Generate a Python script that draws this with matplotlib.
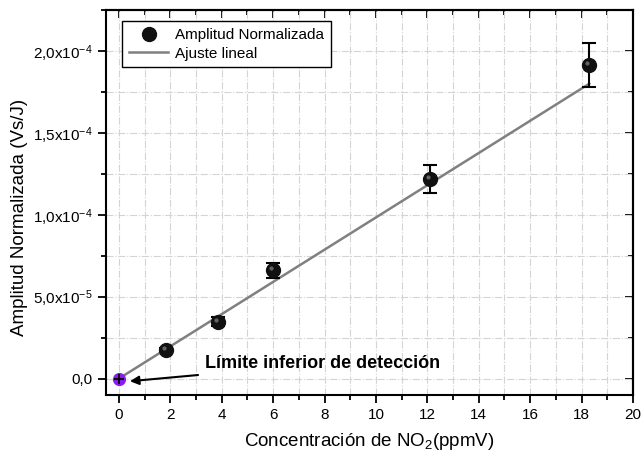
import numpy as np
import matplotlib
matplotlib.use('Agg')
import matplotlib.pyplot as plt
from matplotlib.ticker import MultipleLocator, FuncFormatter
from matplotlib.transforms import offset_copy

plt.rcParams['font.family'] = ['Liberation Sans', 'DejaVu Sans']
plt.rcParams['mathtext.fontset'] = 'custom'
plt.rcParams['mathtext.rm'] = 'Liberation Sans'
plt.rcParams['mathtext.it'] = 'Liberation Sans:italic'
plt.rcParams['mathtext.bf'] = 'Liberation Sans:bold'

# Data
conc = np.array([0.0, 1.83, 3.86, 6.0, 12.12, 18.3])            # ppmV
amp = np.array([0.0, 1.77e-5, 3.48e-5, 6.6e-5, 1.22e-4, 1.915e-4])  # Vs/J
amp_err = np.array([0.0, 0.1e-5, 0.25e-5, 0.46e-5, 0.85e-5, 1.35e-5])

# Linear fit end points
fit_x = [0.0, 18.3]
fit_y = [0.0, 1.80e-4]

detect_x = 0.0
detect_y = 0.0


def sci_fmt(v, pos):
    if abs(v) < 1e-12:
        return '0,0'
    e = int(np.floor(np.log10(abs(v)) + 1e-9))
    m = v / 10 ** e
    return ('%.1f' % m).replace('.', ',') + r'x10$^{\mathregular{%d}}$' % e


fig = plt.figure(figsize=(6.41, 4.54), dpi=100)
ax = fig.add_axes([0.1654, 0.130, 0.8221, 0.848])

ax.set_xlim(-0.5, 20)
ax.set_ylim(-1e-5, 2.25e-4)

# grid on major and minor ticks
ax.xaxis.set_major_locator(MultipleLocator(2))
ax.xaxis.set_minor_locator(MultipleLocator(1))
ax.yaxis.set_major_locator(MultipleLocator(5e-5))
ax.yaxis.set_minor_locator(MultipleLocator(2.5e-5))
ax.yaxis.set_major_formatter(FuncFormatter(sci_fmt))
ax.grid(True, which='both', color='#d4d4d4', linestyle='-.', linewidth=0.8)
ax.set_axisbelow(True)

# fit line
fit_line, = ax.plot(fit_x, fit_y, color='#808080', linewidth=1.8, label='Ajuste lineal', zorder=2)

# data with error bars
ax.errorbar(conc[1:], amp[1:], yerr=amp_err[1:], fmt='none', ecolor='black',
            elinewidth=1.5, capsize=5, capthick=1.5, zorder=3)
pts, = ax.plot(conc[1:], amp[1:], 'o', color='#111111', markersize=10,
               markeredgecolor='#111111', label='Amplitud Normalizada', zorder=4)
hl = offset_copy(ax.transData, fig=fig, x=-1.5, y=1.5, units='points')
ax.plot(conc[1:], amp[1:], 'o', color='#7a7a7a', markersize=3, markeredgewidth=0,
        transform=hl, zorder=5, alpha=0.8)

# detection limit point
ax.plot(detect_x, detect_y, 'o', color='#8a1cf0', markersize=9.5, markeredgewidth=0, zorder=4)
ax.plot(detect_x, detect_y, '+', color='black', markersize=7, markeredgewidth=1.3, zorder=5)

ax.annotate('Límite inferior de detección', xy=(0.43, -1.6e-6), xytext=(3.35, 9.1e-6),
            fontsize=13, fontweight='bold', va='center', ha='left',
            arrowprops=dict(arrowstyle='-|>', color='black', lw=1.5,
                            mutation_scale=13, shrinkA=3, shrinkB=0))

ax.set_xlabel(r'Concentración de NO$_{\mathregular{2}}$(ppmV)', fontsize=13.5, labelpad=6)
ax.set_ylabel('Amplitud Normalizada (Vs/J)', fontsize=13.5)
ax.yaxis.set_label_coords(-0.148, 0.462)

for s in ax.spines.values():
    s.set_linewidth(1.5)
ax.tick_params(which='major', direction='out', length=6, width=1.3, labelsize=11)
ax.tick_params(which='minor', direction='out', length=3.5, width=1.3)

# top and right axes with inward ticks
top = ax.secondary_xaxis('top')
top.xaxis.set_major_locator(MultipleLocator(2))
top.xaxis.set_minor_locator(MultipleLocator(1))
top.tick_params(which='major', direction='in', length=6, width=1.3, labeltop=False)
top.tick_params(which='minor', direction='in', length=3.5, width=1.3)
right = ax.secondary_yaxis('right')
right.yaxis.set_major_locator(MultipleLocator(5e-5))
right.yaxis.set_minor_locator(MultipleLocator(2.5e-5))
right.tick_params(which='major', direction='in', length=6, width=1.3, labelright=False)
right.tick_params(which='minor', direction='in', length=3.5, width=1.3)
for sec in (top, right):
    for s in sec.spines.values():
        s.set_linewidth(1.5)

leg = ax.legend(handles=[pts, fit_line], loc='upper left',
                bbox_to_anchor=(0.03, 0.971), borderaxespad=0, fontsize=11,
                fancybox=False, edgecolor='black', framealpha=1,
                handlelength=2.6, borderpad=0.45, labelspacing=0.3, handletextpad=0.45)
leg.get_frame().set_linewidth(1.0)

fig.savefig('out.png', dpi=100)
